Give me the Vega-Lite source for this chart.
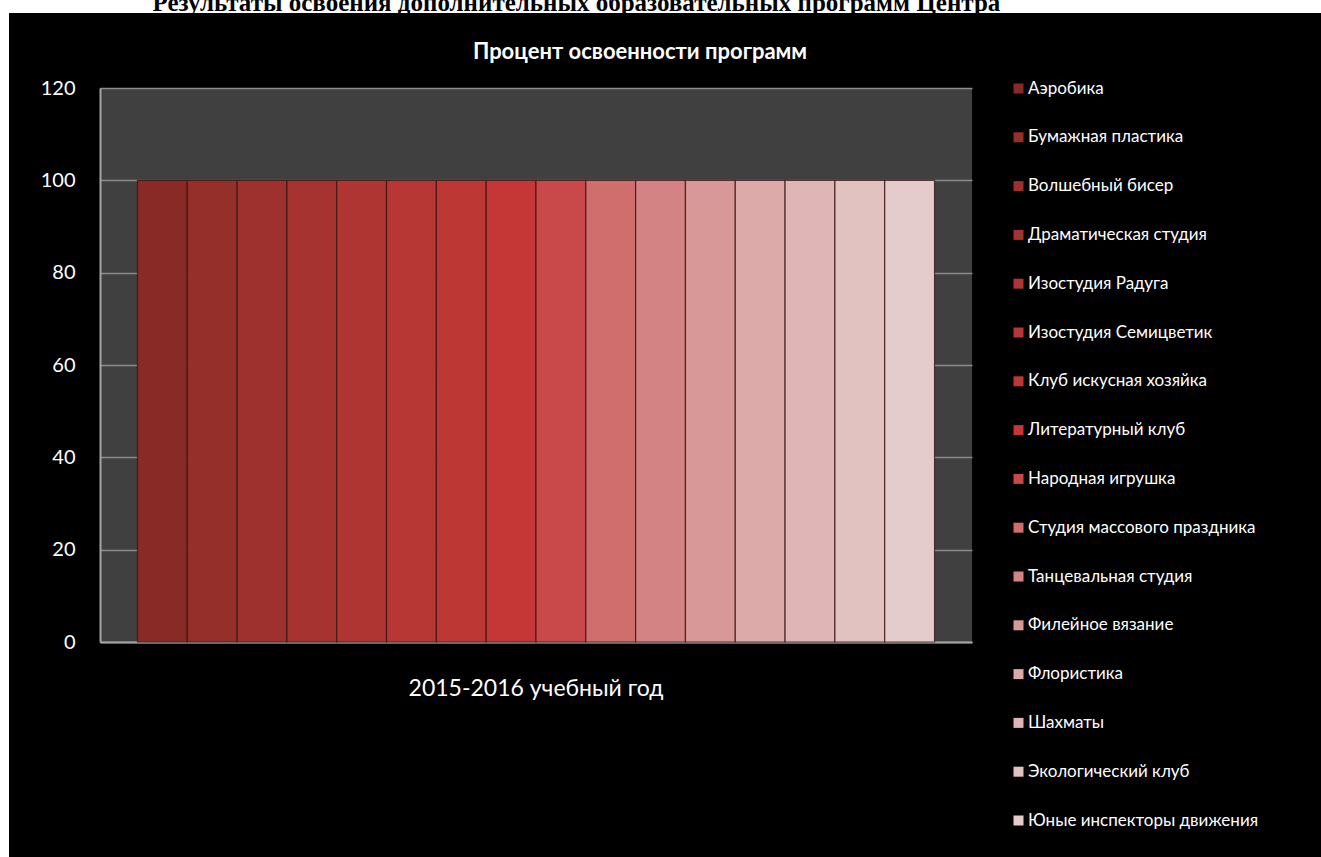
{
  "$schema": "https://vega.github.io/schema/vega-lite/v6.json",
  "background": "black",
  "padding": 0,
  "config": {
    "view": {"stroke": null},
    "font": "Lato"
  },
  "spacing": 0,
  "vconcat": [
    {
      "width": 1321,
      "height": 13,
      "view": {"fill": "white", "stroke": null},
      "data": {"values": [{"t": "Результаты освоения дополнительных образовательных программ Центра"}]},
      "mark": {
        "type": "text",
        "clip": true,
        "font": "Liberation Serif",
        "fontWeight": "bold",
        "fontSize": 25,
        "color": "black",
        "align": "left",
        "baseline": "alphabetic",
        "dx": -508,
        "dy": 4.5
      },
      "encoding": {"text": {"field": "t"}}
    },
    {
      "spacing": 0,
      "hconcat": [
        {
          "width": 9,
          "height": 844,
          "view": {"fill": "white", "stroke": null},
          "data": {"values": [{"t": ""}]},
          "mark": {"type": "text"},
          "encoding": {"text": {"field": "t"}}
        },
        {
          "spacing": 0,
          "vconcat": [
            {
              "width": 872,
              "height": 65,
              "view": {"fill": null, "stroke": null},
              "data": {"values": [{"t": "Процент освоенности программ"}]},
              "mark": {
                "type": "text",
                "font": "Lato",
                "fontSize": 22,
                "fontWeight": "bold",
                "color": "white",
                "align": "center",
                "baseline": "middle",
                "dx": 104,
                "dy": 6.5
              },
              "encoding": {"text": {"field": "t"}}
            },
            {
              "width": 872,
              "height": 554,
              "view": {"fill": "#404040", "stroke": null},
              "data": {
                "values": [
                  {"year": "2015-2016 учебный год", "program": "Аэробика", "value": 100},
                  {"year": "2015-2016 учебный год", "program": "Бумажная пластика", "value": 100},
                  {"year": "2015-2016 учебный год", "program": "Волшебный бисер", "value": 100},
                  {"year": "2015-2016 учебный год", "program": "Драматическая студия", "value": 100},
                  {"year": "2015-2016 учебный год", "program": "Изостудия Радуга", "value": 100},
                  {"year": "2015-2016 учебный год", "program": "Изостудия Семицветик", "value": 100},
                  {"year": "2015-2016 учебный год", "program": "Клуб искусная хозяйка", "value": 100},
                  {"year": "2015-2016 учебный год", "program": "Литературный клуб", "value": 100},
                  {"year": "2015-2016 учебный год", "program": "Народная игрушка", "value": 100},
                  {"year": "2015-2016 учебный год", "program": "Студия массового праздника", "value": 100},
                  {"year": "2015-2016 учебный год", "program": "Танцевальная студия", "value": 100},
                  {"year": "2015-2016 учебный год", "program": "Филейное вязание", "value": 100},
                  {"year": "2015-2016 учебный год", "program": "Флористика", "value": 100},
                  {"year": "2015-2016 учебный год", "program": "Шахматы", "value": 100},
                  {"year": "2015-2016 учебный год", "program": "Экологический клуб", "value": 100},
                  {"year": "2015-2016 учебный год", "program": "Юные инспекторы движения", "value": 100}
                ]
              },
              "mark": {"type": "bar", "stroke": "#3a1414", "strokeWidth": 1.2, "strokeOpacity": 0.8},
              "encoding": {
                "x": {
                  "field": "year",
                  "type": "nominal",
                  "scale": {"paddingInner": 0, "paddingOuter": 0.047},
                  "axis": {
                    "title": null,
                    "labelAngle": 0,
                    "labelFontSize": 23,
                    "labelColor": "white",
                    "labelPadding": 35,
                    "labelLimit": 500,
                    "ticks": false,
                    "domain": true,
                    "domainColor": "#a6a6a6",
                    "domainWidth": 2
                  }
                },
                "xOffset": {
                  "field": "program",
                  "type": "nominal",
                  "sort": ["Аэробика", "Бумажная пластика", "Волшебный бисер", "Драматическая студия", "Изостудия Радуга", "Изостудия Семицветик", "Клуб искусная хозяйка", "Литературный клуб", "Народная игрушка", "Студия массового праздника", "Танцевальная студия", "Филейное вязание", "Флористика", "Шахматы", "Экологический клуб", "Юные инспекторы движения"],
                  "scale": {"paddingInner": 0}
                },
                "y": {
                  "field": "value",
                  "type": "quantitative",
                  "scale": {"domain": [0, 120]},
                  "axis": {
                    "title": null,
                    "values": [0, 20, 40, 60, 80, 100, 120],
                    "labelFontSize": 20,
                    "labelColor": "white",
                    "labelPadding": 25,
                    "ticks": false,
                    "domainColor": "#a6a6a6",
                    "domainWidth": 2,
                    "grid": true,
                    "gridColor": "#8c8c8c",
                    "gridWidth": 1.5,
                    "minExtent": 91,
                    "maxExtent": 91
                  }
                },
                "color": {
                  "field": "program",
                  "type": "nominal",
                  "scale": {
                    "domain": ["Аэробика", "Бумажная пластика", "Волшебный бисер", "Драматическая студия", "Изостудия Радуга", "Изостудия Семицветик", "Клуб искусная хозяйка", "Литературный клуб", "Народная игрушка", "Студия массового праздника", "Танцевальная студия", "Филейное вязание", "Флористика", "Шахматы", "Экологический клуб", "Юные инспекторы движения"],
                    "range": ["#8a2a26", "#942f2a", "#9e302d", "#a6332f", "#ae3531", "#b63734", "#bd3735", "#c53737", "#c9494a", "#cf6e6d", "#d38383", "#d89898", "#dcaaa9", "#dfb5b5", "#e2c1c1", "#e5cccc"]
                  },
                  "legend": {
                    "title": null,
                    "orient": "none",
                    "legendX": 1010,
                    "legendY": 80,
                    "padding": 0,
                    "symbolType": "square",
                    "symbolSize": 100,
                    "symbolStrokeWidth": 0,
                    "labelFontSize": 17,
                    "labelColor": "white",
                    "labelFont": "Lato",
                    "labelOffset": 1,
                    "labelLimit": 400,
                    "rowPadding": 30.8
                  }
                }
              }
            }
          ]
        }
      ]
    }
  ]
}
